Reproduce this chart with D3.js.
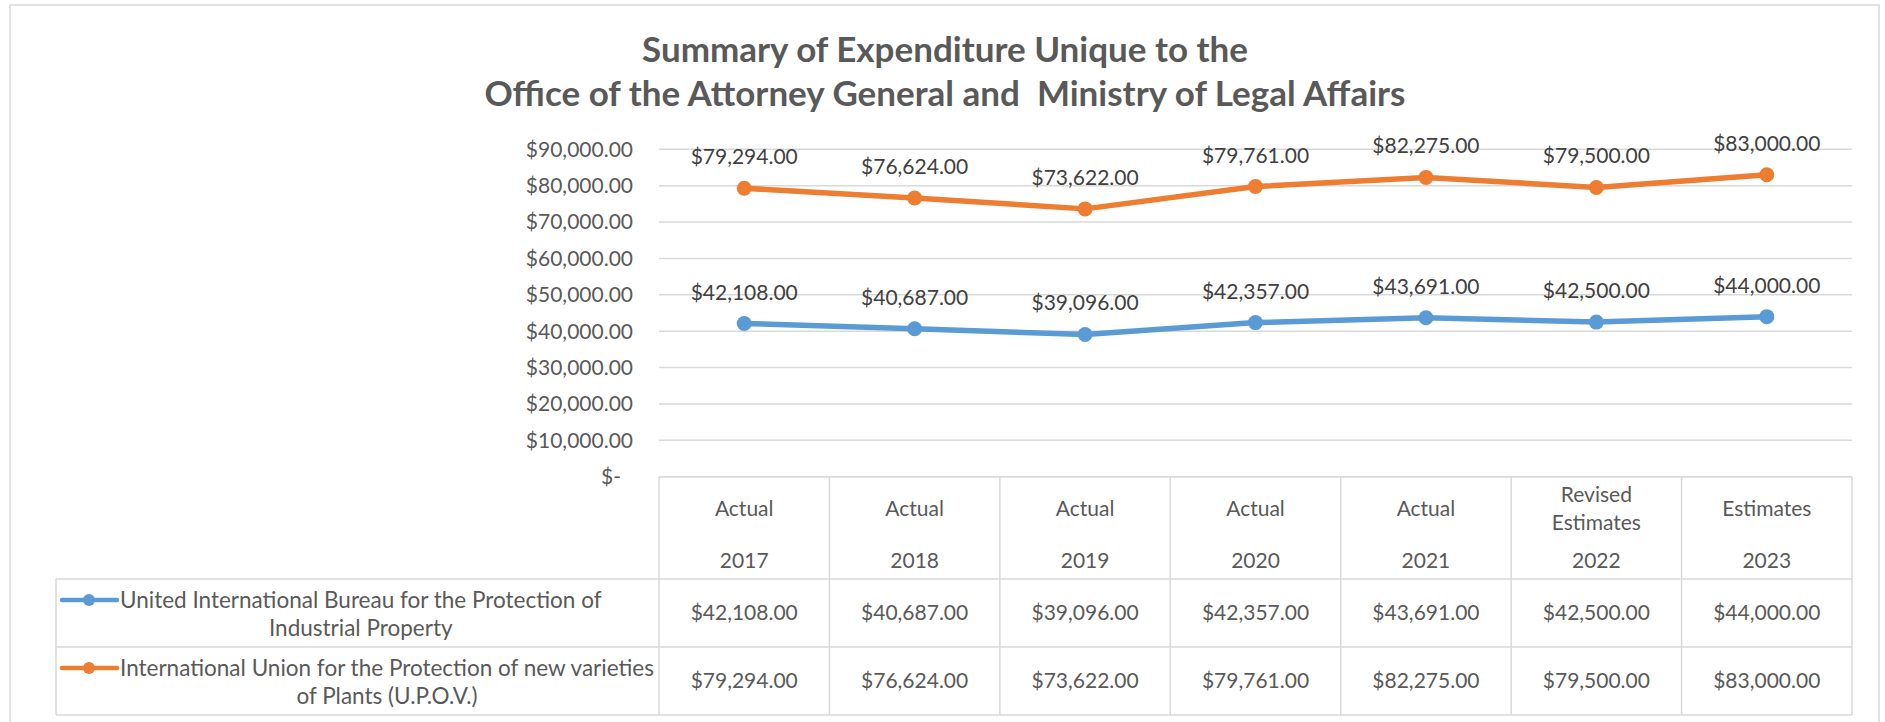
<!DOCTYPE html>
<html>
<head>
<meta charset="utf-8">
<script src="https://cdn.jsdelivr.net/npm/d3@7"></script>
<style>
  body { margin: 0; background: #fff; }
  svg { display: block; font-family: Lato, "Noto Sans", sans-serif; }
</style>
</head>
<body>
<div class="chart-area"></div>
<script>
// ---- Data ----
const categoryTop = ["Actual", "Actual", "Actual", "Actual", "Actual", "Revised Estimates", "Estimates"];
const categoryYear = ["2017", "2018", "2019", "2020", "2021", "2022", "2023"];
const seriesNames = ["United International Bureau for the Protection of Industrial Property",
                     "International Union for the Protection of new varieties of Plants (U.P.O.V.)"];
const seriesLines = [["United International Bureau for the Protection of", "Industrial Property"],
                     ["International Union for the Protection of new varieties", "of Plants (U.P.O.V.)"]];
const bureauValues = [42108, 40687, 39096, 42357, 43691, 42500, 44000];
const upovValues = [79294, 76624, 73622, 79761, 82275, 79500, 83000];
const yTicks = [0, 10000, 20000, 30000, 40000, 50000, 60000, 70000, 80000, 90000];
const seriesColors = ["#5B9BD5", "#ED7D31"];

// ---- Sizes ----
const svgWidth = 1885, svgHeight = 722;
const plotLeft = 659, plotRight = 1852;
const plotTop = 149.3, plotBottom = 476.7;
const tableLeft = 56;
const headerBottom = 579;
const rowHeight = 68;
const fontSize = 21;     // numbers, header
const nameSize = 22.5;   // series names in table

const svg = d3.select(".chart-area").append("svg")
    .attr("width", svgWidth)
    .attr("height", svgHeight);

// outer frame (runs past the bottom edge)
svg.append("rect")
    .attr("x", 10).attr("y", 5)
    .attr("width", 1869).attr("height", 800)
    .attr("fill", "none")
    .attr("stroke", "#d9d9d9")
    .attr("stroke-width", 1.5);

// Title
const title = svg.append("text")
    .attr("x", 945)
    .attr("text-anchor", "middle")
    .attr("fill", "#595959")
    .style("font-weight", "bold")
    .style("font-size", "35px");
title.append("tspan").attr("x", 945).attr("y", 62).text("Summary of Expenditure Unique to the");
title.append("tspan").attr("x", 945).attr("y", 106).attr("xml:space", "preserve")
    .text("Office of the Attorney General and  Ministry of Legal Affairs");

// Scales
const x = d3.scaleBand()
    .domain(categoryYear)
    .range([plotLeft, plotRight]);

const y = d3.scaleLinear()
    .domain([0, 90000])
    .range([plotBottom, plotTop]);

const money = d3.format("$,.2f");

// Gridlines
svg.append("g")
    .selectAll("line")
    .data(yTicks)
    .join("line")
    .attr("x1", plotLeft)
    .attr("x2", plotRight)
    .attr("y1", d => y(d))
    .attr("y2", d => y(d))
    .attr("stroke", "#d9d9d9")
    .attr("stroke-width", 1.5);

// Y axis labels
svg.append("g")
    .selectAll("text")
    .data(yTicks)
    .join("text")
    .attr("x", d => d === 0 ? 621 : 633)
    .attr("y", d => y(d))
    .attr("dy", "0.35em")
    .attr("text-anchor", "end")
    .attr("fill", "#595959")
    .style("font-size", fontSize + "px")
    .text(d => d === 0 ? "$-" : money(d));

// Lines + markers + data labels
const series = [bureauValues, upovValues];
const line = d3.line()
    .x((d, i) => x(categoryYear[i]) + x.bandwidth() / 2)
    .y(d => y(d));

series.forEach((vals, s) => {
    const g = svg.append("g");
    g.append("path")
        .datum(vals)
        .attr("d", line)
        .attr("fill", "none")
        .attr("stroke", seriesColors[s])
        .attr("stroke-width", 5.5)
        .attr("stroke-linejoin", "round")
        .attr("stroke-linecap", "round");

    g.selectAll("circle")
        .data(vals)
        .join("circle")
        .attr("cx", (d, i) => x(categoryYear[i]) + x.bandwidth() / 2)
        .attr("cy", d => y(d))
        .attr("r", 7.5)
        .attr("fill", seriesColors[s]);

    g.selectAll("text")
        .data(vals)
        .join("text")
        .attr("x", (d, i) => x(categoryYear[i]) + x.bandwidth() / 2)
        .attr("y", d => y(d) - 24)
        .attr("text-anchor", "middle")
        .attr("fill", "#404040")
        .style("font-size", fontSize + "px")
        .text(d => money(d));
});

// ---- Data table ----
const table = svg.append("g").attr("class", "table");
const gridColor = "#d9d9d9";
const rowsBottom = headerBottom + rowHeight * 2;

// horizontal rules
table.append("line")
    .attr("x1", plotLeft).attr("x2", plotRight)
    .attr("y1", plotBottom).attr("y2", plotBottom)
    .attr("stroke", gridColor).attr("stroke-width", 1.5);
[0, 1, 2].forEach(r => {
    table.append("line")
        .attr("x1", tableLeft).attr("x2", plotRight)
        .attr("y1", headerBottom + r * rowHeight).attr("y2", headerBottom + r * rowHeight)
        .attr("stroke", gridColor).attr("stroke-width", 1.5);
});

// vertical rules
const colEdges = categoryYear.map(c => x(c)).concat([plotRight]);
table.selectAll("line.col")
    .data(colEdges)
    .join("line")
    .attr("class", "col")
    .attr("x1", d => d).attr("x2", d => d)
    .attr("y1", plotBottom).attr("y2", rowsBottom)
    .attr("stroke", gridColor).attr("stroke-width", 1.5);
table.append("line")
    .attr("x1", tableLeft).attr("x2", tableLeft)
    .attr("y1", headerBottom).attr("y2", rowsBottom)
    .attr("stroke", gridColor).attr("stroke-width", 1.5);

// header labels
categoryYear.forEach((yr, i) => {
    const cx = x(yr) + x.bandwidth() / 2;
    const words = categoryTop[i].split(" ");
    const lh = 28;
    const startY = 509 - (words.length - 1) * lh / 2;
    words.forEach((w, k) => {
        table.append("text")
            .attr("x", cx)
            .attr("y", startY + k * lh)
            .attr("dy", "0.35em")
            .attr("text-anchor", "middle")
            .attr("fill", "#595959")
            .style("font-size", fontSize + "px")
            .text(w);
    });
    table.append("text")
        .attr("x", cx)
        .attr("y", 561)
        .attr("dy", "0.35em")
        .attr("text-anchor", "middle")
        .attr("fill", "#595959")
        .style("font-size", fontSize + "px")
        .text(yr);
});

// rows: legend key, name, values
series.forEach((vals, s) => {
    const rowTop = headerBottom + s * rowHeight;
    const rowMid = rowTop + rowHeight / 2;
    const lines = seriesLines[s];
    const lh = 28;
    const firstY = rowMid - (lines.length - 1) * lh / 2 + 1;

    // key
    table.append("line")
        .attr("x1", 62).attr("x2", 117)
        .attr("y1", firstY).attr("y2", firstY)
        .attr("stroke", seriesColors[s])
        .attr("stroke-width", 4.5)
        .attr("stroke-linecap", "round");
    table.append("circle")
        .attr("cx", 89).attr("cy", firstY).attr("r", 6)
        .attr("fill", seriesColors[s]);

    // name (wrapped, centred on the longest line)
    const nameG = table.append("g");
    const texts = lines.map((t, k) => nameG.append("text")
        .attr("y", firstY + k * lh)
        .attr("dy", "0.35em")
        .attr("text-anchor", "middle")
        .attr("fill", "#595959")
        .style("font-size", nameSize + "px")
        .text(t));
    const longest = d3.max(texts, t => t.node().getComputedTextLength());
    texts.forEach(t => t.attr("x", 120 + longest / 2));

    // values
    table.selectAll(null)
        .data(vals)
        .join("text")
        .attr("x", (d, i) => x(categoryYear[i]) + x.bandwidth() / 2)
        .attr("y", rowMid)
        .attr("dy", "0.35em")
        .attr("text-anchor", "middle")
        .attr("fill", "#595959")
        .style("font-size", fontSize + "px")
        .text(d => money(d));
});
</script>
</body>
</html>
